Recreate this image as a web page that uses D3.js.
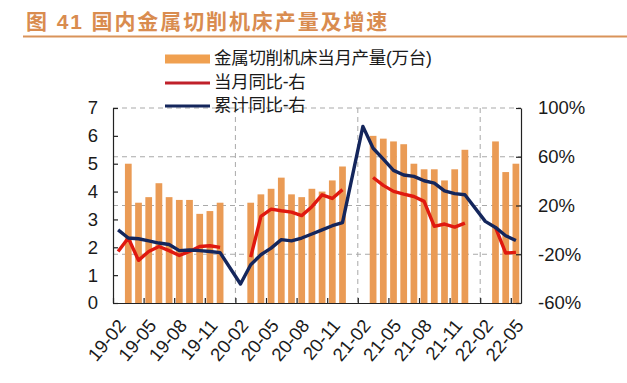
<!DOCTYPE html>
<html>
<head>
<meta charset="utf-8">
<script src="https://cdn.jsdelivr.net/npm/d3@7"></script>
<style>
  html, body { margin: 0; padding: 0; background: #fff; }
  text { font-family: "Liberation Sans", "Noto Sans CJK SC", sans-serif; fill: #1a1a1a; }
</style>
</head>
<body>
<div id="chart"></div>
<script>
// one entry per month, 19-02 .. 22-05
const categories = [
  "19-02","19-03","19-04","19-05","19-06","19-07","19-08","19-09","19-10","19-11","19-12",
  "20-01","20-02","20-03","20-04","20-05","20-06","20-07","20-08","20-09","20-10","20-11","20-12",
  "21-01","21-02","21-03","21-04","21-05","21-06","21-07","21-08","21-09","21-10","21-11","21-12",
  "22-01","22-02","22-03","22-04","22-05"
];
const output = [
  null,5.0,3.6,3.8,4.3,3.8,3.7,3.7,3.2,3.3,3.6,
  null,null,3.6,3.9,4.1,4.5,3.9,3.8,4.1,4.0,4.4,4.9,
  null,null,6.0,5.9,5.8,5.7,5.0,4.8,4.8,4.4,4.8,5.5,
  null,null,5.8,4.7,5.0
];
const monthYoy = [
  -17.7,-6.7,-25,-17.7,-13.6,-17,-21,-17.7,-13.6,-13,-14.4,
  null,null,-22.3,11,17,15.7,14.6,11.7,19,28.8,25.8,33,
  null,null,43,36.5,31.6,29.4,27.4,23.4,2.9,4.8,2.3,5.6,
  null,null,2,-19,-18.5
];
const cumYoy = [
  0,-6.7,-7.3,-9,-10.8,-12,-17,-16.5,-17,-17.7,-18.7,
  null,-44.4,-28.6,-20.4,-15,-8,-9,-6.7,-3.4,0,3.4,6,
  null,84.9,67,58,48.8,45,43.9,40.3,38.4,32,29.7,28.8,
  null,7,2,-4.8,-8.7
];
const leftTicks = [0,1,2,3,4,5,6,7];
const rightTicks = [-60,-20,20,60,100];
const labelStep = 3;
const legendNames = ["金属切削机床当月产量(万台)", "当月同比-右", "累计同比-右"];
const titleText = "图 41 国内金属切削机床产量及增速";

const W = 627, H = 383;
const plot = { left: 113, right: 521, top: 108, bottom: 303 };

const svg = d3.select("#chart").append("svg")
  .attr("width", W).attr("height", H)
  .style("display", "block");

// title and rule
svg.append("text")
  .attr("x", 26).attr("y", 29)
  .attr("font-size", 21).attr("font-weight", 700)
  .attr("letter-spacing", 1.9)
  .attr("font-family", '"Noto Sans CJK SC", sans-serif')
  .style("fill", "#d98c4f")
  .text(titleText);
svg.append("line")
  .attr("x1", 23).attr("x2", W).attr("y1", 36.5).attr("y2", 36.5)
  .attr("stroke", "#d9935a").attr("stroke-width", 2);

// scales
const xBand = d3.scaleBand().domain(categories).range([plot.left, plot.right]).paddingInner(0.34).paddingOuter(0.17);
const xTick = d3.scaleLinear().domain([0, categories.length]).range([plot.left, plot.right]);
const y = d3.scaleLinear().domain([0, 7]).range([plot.bottom, plot.top]);
const yRight = d3.scaleLinear().domain([-60, 100]).range([plot.bottom, plot.top]);
const xMid = d => xBand(d) + xBand.bandwidth() / 2;

const tickIdx = d3.range(0, categories.length, labelStep);

// dashed grid
svg.append("g").selectAll("line").data(rightTicks.filter(d => d > -60)).enter().append("line")
  .attr("x1", plot.left).attr("x2", plot.right)
  .attr("y1", d => yRight(d)).attr("y2", d => yRight(d))
  .attr("stroke", "#a9a9a9").attr("stroke-width", 1).attr("stroke-dasharray", "5,4");
svg.append("g").selectAll("line").data([12, 24, 36]).enter().append("line")
  .attr("x1", d => xTick(d)).attr("x2", d => xTick(d))
  .attr("y1", plot.top).attr("y2", plot.bottom)
  .attr("stroke", "#a9a9a9").attr("stroke-width", 1).attr("stroke-dasharray", "5,4");

// bars
svg.append("g").selectAll("rect")
  .data(categories.map((c, i) => ({ c, v: output[i] })).filter(d => d.v !== null))
  .enter().append("rect")
  .attr("x", d => xBand(d.c))
  .attr("y", d => y(d.v))
  .attr("width", xBand.bandwidth())
  .attr("height", d => y(0) - y(d.v))
  .attr("fill", "#ea9b55");

// axes
const axisL = d3.axisLeft(y).tickValues(leftTicks).tickFormat(d3.format("d")).tickSizeInner(-5).tickSizeOuter(0).tickPadding(15);
const axisR = d3.axisRight(yRight).tickValues(rightTicks).tickFormat(d => d + "%").tickSizeInner(-5).tickSizeOuter(0).tickPadding(17);
const axisB = d3.axisBottom(xTick).tickValues(tickIdx).tickFormat(() => "").tickSizeInner(-5).tickSizeOuter(0);

function styleAxis(g) {
  g.selectAll("path,line").attr("stroke", "#222").attr("stroke-width", 1.2);
  g.selectAll("text").attr("font-size", 18.5);
}
svg.append("g").attr("transform", `translate(${plot.left},0)`).call(axisL).call(styleAxis);
svg.append("g").attr("transform", `translate(${plot.right},0)`).call(axisR).call(styleAxis);
svg.append("g").attr("transform", `translate(0,${plot.bottom})`).call(axisB).call(styleAxis);

// month labels, slanted
svg.append("g").selectAll("text").data(tickIdx).enter().append("text")
  .attr("transform", d => `translate(${xMid(categories[d]) + 5},${plot.bottom + 20}) rotate(-50)`)
  .attr("text-anchor", "end")
  .attr("dominant-baseline", "middle")
  .attr("font-size", 18.5)
  .text(d => categories[d]);

// lines: month line breaks on gaps, cumulative line runs across them
const line = d3.line()
  .defined(d => d.v !== null)
  .x(d => xMid(d.c))
  .y(d => yRight(d.v));

const monthPts = categories.map((c, i) => ({ c, v: monthYoy[i] }));
const cumPts = categories.map((c, i) => ({ c, v: cumYoy[i] })).filter(d => d.v !== null);

svg.append("path").datum(monthPts)
  .attr("fill", "none").attr("stroke", "#e0190f").attr("stroke-width", 3.4)
  .attr("stroke-linejoin", "round").attr("d", line);
svg.append("path").datum(cumPts)
  .attr("fill", "none").attr("stroke", "#14265c").attr("stroke-width", 3.4)
  .attr("stroke-linejoin", "round").attr("d", line);

// legend
const legendY = [59, 83, 106];
const legend = svg.append("g");
legend.append("rect").attr("x", 165).attr("y", legendY[0] - 4.5).attr("width", 45).attr("height", 9).attr("fill", "#f0a050");
legend.append("line").attr("x1", 165).attr("x2", 210).attr("y1", legendY[1]).attr("y2", legendY[1]).attr("stroke", "#c0202a").attr("stroke-width", 3);
legend.append("line").attr("x1", 165).attr("x2", 210).attr("y1", legendY[2]).attr("y2", legendY[2]).attr("stroke", "#14265c").attr("stroke-width", 3);
legend.selectAll("text").data(legendNames).enter().append("text")
  .attr("x", 214)
  .attr("y", (d, i) => legendY[i])
  .attr("dominant-baseline", "middle")
  .attr("font-size", 17.5)
  .attr("letter-spacing", -0.3)
  .text(d => d);
</script>
</body>
</html>
